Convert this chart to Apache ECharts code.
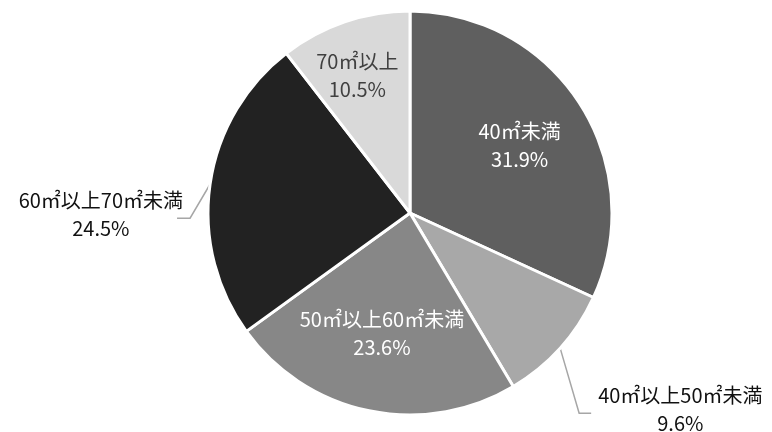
<!DOCTYPE html>
<html>
<head>
<meta charset="utf-8">
<script src="https://cdn.jsdelivr.net/npm/echarts@6/dist/echarts.min.js"></script>
<style>
  html, body { margin: 0; padding: 0; background: #ffffff; }
  #chart { width: 772px; height: 432px; }
</style>
</head>
<body>
<div id="chart"></div>
<script>
// Floor-area bands and their share of dwellings (%)
const categories = ['40㎡未満', '40㎡以上50㎡未満', '50㎡以上60㎡未満', '60㎡以上70㎡未満', '70㎡以上'];
const shares = [31.9, 9.6, 23.6, 24.5, 10.5];

const sliceColors = ['#5f5f5f', '#a8a8a8', '#878787', '#222222', '#d9d9d9'];
const labelColors = ['#ffffff', '#111111', '#ffffff', '#111111', '#404040'];
const labelInside = [true, false, true, false, true];

// Nudges for labels drawn inside their slices
const insideNudge = [[22, -12], null, [-7, 19], null, [-19, -39]];
// Elbow leader lines for outside labels: bend point and end point relative to the slice edge
const leader = [
  null,
  { bend: [19, 65], end: [31, 65], side: 'right', gap: 7, dy: -4 },
  null,
  { bend: [-20, 34], end: [-33, 34], side: 'left', gap: 6, dy: -4 },
  null
];

const chart = echarts.init(document.getElementById('chart'), null, { renderer: 'canvas' });

const data = categories.map((name, i) => ({
  name: name,
  value: shares[i],
  itemStyle: { color: sliceColors[i] },
  label: {
    position: labelInside[i] ? 'inside' : 'outside',
    color: labelColors[i]
  },
  labelLine: { show: !labelInside[i] }
}));

chart.setOption({
  animation: false,
  backgroundColor: '#ffffff',
  series: [{
    type: 'pie',
    center: [410, 213],
    radius: 202,
    startAngle: 90,
    clockwise: true,
    avoidLabelOverlap: false,
    itemStyle: { borderColor: '#ffffff', borderWidth: 3 },
    label: {
      show: true,
      formatter: '{b}\n{c}%',
      fontFamily: '"Noto Sans CJK JP", "Noto Sans", sans-serif',
      fontSize: 20,
      lineHeight: 28,
      align: 'center'
    },
    labelLine: {
      show: true,
      length: 30,
      length2: 12,
      lineStyle: { color: '#a6a6a6', width: 1.5 }
    },
    labelLayout: function (p) {
      const i = p.dataIndex;
      if (labelInside[i]) {
        return { dx: insideNudge[i][0], dy: insideNudge[i][1] };
      }
      const L = leader[i];
      const a = p.labelLinePoints ? p.labelLinePoints[0] : [0, 0];
      const bend = [a[0] + L.bend[0], a[1] + L.bend[1]];
      const end = [a[0] + L.end[0], a[1] + L.end[1]];
      const w = p.labelRect.width;
      const cx = L.side === 'right' ? end[0] + L.gap + w / 2 : end[0] + L.gap - w / 2;
      return {
        x: cx,
        y: end[1] + L.dy,
        align: 'center',
        verticalAlign: 'middle',
        labelLinePoints: [a, bend, end]
      };
    },
    data: data
  }]
});
</script>
</body>
</html>
